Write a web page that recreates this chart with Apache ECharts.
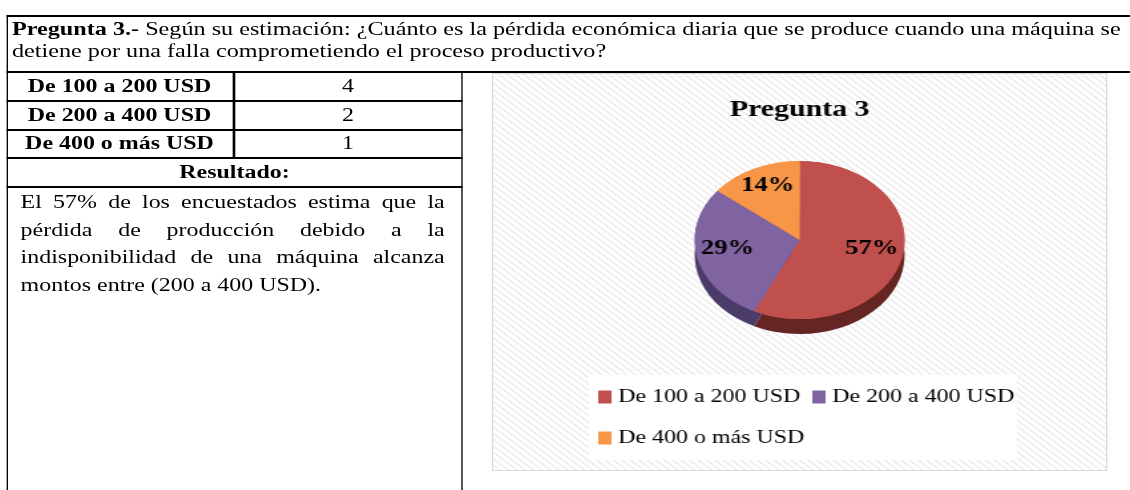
<!DOCTYPE html>
<html>
<head>
<meta charset="utf-8">
<title>Pregunta 3</title>
<style>
	html, body { margin: 0; padding: 0; background: #fff; overflow: hidden; }
	/* la hoja original está estirada a lo ancho, se reproduce con scaleX */
	#hoja {
		position: absolute; left: 0; top: 0; width: 850px; height: 490px;
		transform-origin: 0 0; transform: scaleX(1.3294);
		font-family: "Liberation Serif", "Times New Roman", serif; font-size: 18px; color: #000;
	}
	.h { position: absolute; height: 2px; background: #000; }
	.v { position: absolute; width: 1.5px; background: #000; }
	.celda { position: absolute; height: 27px; line-height: 27px; text-align: center; white-space: nowrap; }
	.negrita { font-weight: bold; }
	#pregunta { position: absolute; left: 9px; top: 18px; line-height: 22px; white-space: nowrap; font-size: 18.2px; }
	#resultado { position: absolute; left: 15.5px; top: 189px; width: 319px; line-height: 27.5px; text-align: justify; }
	#grafico {
		position: absolute; left: 370.1px; top: 73px; width: 462.6px; height: 398px;
		box-sizing: border-box; border: 1px solid #dadada;
		background: repeating-linear-gradient(45deg, #ffffff 0px, #ffffff 2.5px, #f1f1f1 2.5px, #f1f1f1 4.5px);
	}
</style>
</head>
<body>
<div id="hoja">
	<div class="h" style="left:4.5px; top:15px; width:860px;"></div>
	<div class="h" style="left:4.5px; top:71px; width:860px;"></div>
	<div class="h" style="left:4.5px; top:100px; width:343.8px;"></div>
	<div class="h" style="left:4.5px; top:129px; width:343.8px;"></div>
	<div class="h" style="left:4.5px; top:157px; width:343.8px;"></div>
	<div class="h" style="left:4.5px; top:186px; width:343.8px;"></div>
	<div class="v" style="left:4.5px; top:15px; height:480px;"></div>
	<div class="v" style="left:175.3px; top:72px; height:86px;"></div>
	<div class="v" style="left:346.8px; top:72px; height:420px;"></div>

	<div id="pregunta"><b>Pregunta 3.-</b> Según su estimación: ¿Cuánto es la pérdida económica diaria que se produce cuando una máquina se<br>detiene por una falla comprometiendo el proceso productivo?</div>
	<div id="filas"></div>
	<div class="celda negrita" style="left:4.5px; top:159px; width:343.8px;">Resultado:</div>
	<div id="resultado">El 57% de los encuestados estima que la pérdida de producción debido a la indisponibilidad de una máquina alcanza montos entre (200 a 400 USD).</div>

	<div id="grafico"></div>
</div>

<script src="https://cdn.jsdelivr.net/npm/echarts/dist/echarts.min.js"></script>
<script>
	var categorias = ['De 100 a 200 USD', 'De 200 a 400 USD', 'De 400 o más USD'];
	var respuestas = [4, 2, 1];
	var colores = ['#C0504D', '#8064A2', '#F79646'];
	var coloresLado = ['#652523', '#4a3b69', '#a9642c'];

	// filas de la tabla
	var filasTop = [73, 102, 130];
	var _html = '';
	for (var i = 0; i < categorias.length; i++) {
		_html += '<div class="celda negrita" style="left:4.5px; top:' + filasTop[i] + 'px; width:170.8px;">' + categorias[i] + '</div>'
			+ '<div class="celda" style="left:176.8px; top:' + filasTop[i] + 'px; width:170px;">' + respuestas[i] + '</div>';
	}
	document.getElementById('filas').innerHTML = _html;

	function armarDatos(paleta) {
		return categorias.map(function (c, i) {
			return { name: c, value: respuestas[i], itemStyle: { color: paleta[i] } };
		});
	}

	var fuente = 'Liberation Serif';
	var centroX = '50%';
	var radio = 79;

	var grafico = echarts.init(document.getElementById('grafico'));
	var option = {
		backgroundColor: 'transparent',
		animation: false,
		title: {
			text: 'Pregunta 3',
			left: 'center',
			top: 20,
			textStyle: { fontFamily: fuente, fontSize: 22.5, fontWeight: 'bold', color: '#000' }
		},
		legend: {
			data: categorias,
			left: 72,
			top: 301,
			width: 330,
			orient: 'horizontal',
			icon: 'rect',
			itemWidth: 10,
			itemHeight: 13,
			itemGap: 9,
			padding: [6, 2, 6, 7],
			backgroundColor: '#ffffff',
			textStyle: { fontFamily: fuente, fontSize: 18, lineHeight: 32, color: '#000' }
		},
		series: [{
			// cara superior (anillo que lleva las etiquetas)
			name: 'Pregunta 3',
			type: 'pie',
			z: 3,
			center: [centroX, 166],
			radius: [radio * 0.33, radio],
			startAngle: 90,
			clockwise: true,
			percentPrecision: 0,
			data: armarDatos(colores),
			itemStyle: { borderWidth: 0 },
			label: {
				show: true,
				position: 'inside',
				formatter: '{d}%',
				fontFamily: fuente,
				fontSize: 20,
				fontWeight: 'bold',
				color: '#000',
				textBorderWidth: 0,
				offset: [0, -4]
			},
			labelLine: { show: false },
			emphasis: { disabled: true }
		}, {
			// relleno del centro
			type: 'pie',
			z: 2,
			silent: true,
			center: [centroX, 166],
			radius: [0, radio],
			startAngle: 90,
			data: armarDatos(colores),
			label: { show: false },
			labelLine: { show: false },
			emphasis: { disabled: true }
		}, {
			// lateral oscuro del pastel 3D
			type: 'pie',
			z: 1,
			silent: true,
			center: [centroX, 181],
			radius: [0, radio],
			startAngle: 90,
			data: armarDatos(coloresLado),
			label: { show: false },
			labelLine: { show: false },
			emphasis: { disabled: true }
		}]
	};
	grafico.setOption(option);
</script>
</body>
</html>
